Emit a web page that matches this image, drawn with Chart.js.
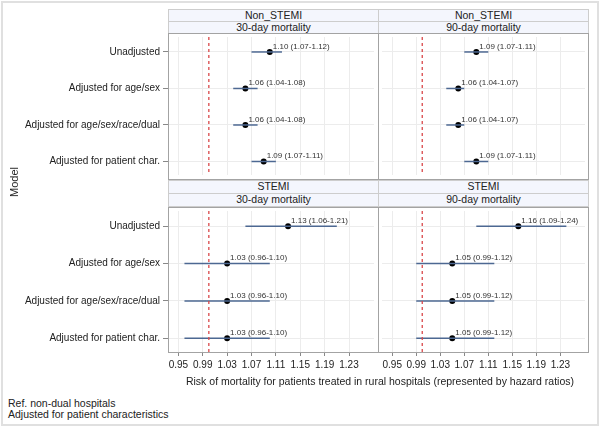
<!DOCTYPE html>
<html>
<head>
<meta charset="utf-8">
<script src="https://cdn.jsdelivr.net/npm/chart.js@4.4.0/dist/chart.umd.min.js"></script>
<style>
html, body { margin: 0; padding: 0; background: #fff; }
#wrap { position: relative; width: 600px; height: 427px; overflow: hidden;
  font-family: "Liberation Sans", Arial, sans-serif; color: #222; }
#frame { position: absolute; left: 1px; top: 1px; width: 594px; height: 421px; border: 2px solid #e0e0e0; }
canvas { position: absolute; }
.strip { position: absolute; background: #f4f6fd; border: 1px solid #cdcdcd; box-sizing: border-box;
  text-align: center; font-size: 10.5px; line-height: 11px; white-space: nowrap; }
.panel { position: absolute; border: 1px solid #a3a3a3; box-sizing: border-box; pointer-events: none; }
.txt { position: absolute; white-space: nowrap; font-size: 10.5px; }
</style>
</head>
<body>
<div id="wrap">
  <div id="frame"></div>

  <div class="strip" style="left:168px;top:21px;width:211px;height:13px;">30-day mortality</div>
  <div class="strip" style="left:168px;top:9px;width:211px;height:13px;">Non_STEMI</div>
  <div class="strip" style="left:378px;top:21px;width:211px;height:13px;">90-day mortality</div>
  <div class="strip" style="left:378px;top:9px;width:211px;height:13px;">Non_STEMI</div>
  <div class="strip" style="left:168px;top:193px;width:211px;height:14px;">30-day mortality</div>
  <div class="strip" style="left:168px;top:180px;width:211px;height:14px;">STEMI</div>
  <div class="strip" style="left:378px;top:193px;width:211px;height:14px;">90-day mortality</div>
  <div class="strip" style="left:378px;top:180px;width:211px;height:14px;">STEMI</div>

  <canvas id="c1" width="378" height="146" style="left:0;top:33px;"></canvas>
  <canvas id="c2" width="211" height="146" style="left:378px;top:33px;"></canvas>
  <canvas id="c3" width="378" height="169" style="left:0;top:207px;"></canvas>
  <canvas id="c4" width="211" height="169" style="left:378px;top:207px;"></canvas>

  <div class="panel" style="left:168px;top:33px;width:211px;height:147px;"></div>
  <div class="panel" style="left:378px;top:33px;width:211px;height:147px;"></div>
  <div class="panel" style="left:168px;top:207px;width:211px;height:146px;"></div>
  <div class="panel" style="left:378px;top:207px;width:211px;height:146px;"></div>

  <div class="txt" style="left:14px;top:182px;font-size:11px;transform:translate(-50%,-50%) rotate(-90deg);">Model</div>
  <div class="txt" style="left:380px;top:375px;transform:translateX(-50%);">Risk of mortality for patients treated in rural hospitals (represented by hazard ratios)</div>
  <div class="txt" style="left:8px;top:397px;">Ref. non-dual hospitals</div>
  <div class="txt" style="left:8px;top:408px;">Adjusted for patient characteristics</div>
</div>

<script>
// rows (top to bottom)
const models = ['Unadjusted', 'Adjusted for age/sex', 'Adjusted for age/sex/race/dual', 'Adjusted for patient char.'];

// hazard ratios with 95% CI
const nonStemi30Hr = [1.10, 1.06, 1.06, 1.09];
const nonStemi30Lo = [1.07, 1.04, 1.04, 1.07];
const nonStemi30Hi = [1.12, 1.08, 1.08, 1.11];

const nonStemi90Hr = [1.09, 1.06, 1.06, 1.09];
const nonStemi90Lo = [1.07, 1.04, 1.04, 1.07];
const nonStemi90Hi = [1.11, 1.07, 1.07, 1.11];

const stemi30Hr = [1.13, 1.03, 1.03, 1.03];
const stemi30Lo = [1.06, 0.96, 0.96, 0.96];
const stemi30Hi = [1.21, 1.10, 1.10, 1.10];

const stemi90Hr = [1.16, 1.05, 1.05, 1.05];
const stemi90Lo = [1.09, 0.99, 0.99, 0.99];
const stemi90Hi = [1.24, 1.12, 1.12, 1.12];

const xTicks = [0.95, 0.99, 1.03, 1.07, 1.11, 1.15, 1.19, 1.23];
const refValue = 1.00;
const xMin = 0.933, xMax = 1.271;
const yMin = -0.41, yMax = 3.37;

Chart.defaults.font.family = '"Liberation Sans", Arial, sans-serif';
Chart.defaults.color = '#222';

// text label "hr (lo-hi)" next to every point
const ciLabelPlugin = {
  id: 'ciLabels',
  afterDatasetsDraw(chart) {
    const idx = chart.data.datasets.findIndex(d => d.ciLabels);
    if (idx < 0) return;
    const meta = chart.getDatasetMeta(idx);
    const labels = chart.data.datasets[idx].ciLabels;
    const ctx = chart.ctx;
    ctx.save();
    ctx.font = '8px "Liberation Sans", Arial, sans-serif';
    ctx.fillStyle = '#333';
    ctx.textBaseline = 'bottom';
    meta.data.forEach((pt, i) => ctx.fillText(labels[i], pt.x + 3, pt.y - 1.5));
    ctx.restore();
  }
};

function makePanel(id, hr, lo, hi, showY, showX) {
  const fmt = v => v.toFixed(2);
  const ciSets = hr.map((v, i) => ({
    data: [{x: lo[i], y: i}, {x: hi[i], y: i}],
    showLine: true,
    borderColor: '#4d6892',
    borderWidth: 1.5,
    pointRadius: 0
  }));
  const refSet = {
    data: [{x: refValue, y: yMin}, {x: refValue, y: yMax}],
    showLine: true,
    borderColor: '#d9484a',
    borderWidth: 1.3,
    borderDash: [3, 3],
    pointRadius: 0
  };
  const pointSet = {
    data: hr.map((v, i) => ({x: v, y: i})),
    pointRadius: 3,
    borderWidth: 0,
    backgroundColor: '#000',
    ciLabels: hr.map((v, i) => fmt(v) + ' (' + fmt(lo[i]) + '-' + fmt(hi[i]) + ')')
  };

  new Chart(document.getElementById(id), {
    type: 'scatter',
    data: { datasets: [refSet, ...ciSets, pointSet] },
    options: {
      responsive: false,
      animation: false,
      layout: { padding: 0 },
      plugins: { legend: { display: false }, tooltip: { enabled: false } },
      scales: {
        x: {
          type: 'linear', min: xMin, max: xMax,
          afterBuildTicks: s => { s.ticks = xTicks.map(v => ({value: v})); },
          grid: { color: '#ececec', drawTicks: showX, tickLength: 4, tickColor: '#888' },
          border: { display: false },
          ticks: { display: showX, padding: 3, maxRotation: 0, autoSkip: false,
                   font: { size: 10 }, callback: v => v.toFixed(2) },
          afterFit: s => { s.height = showX ? 24 : 0; s.paddingLeft = 0; s.paddingRight = 0; }
        },
        y: {
          type: 'linear', reverse: true, min: yMin, max: yMax,
          afterBuildTicks: s => { s.ticks = models.map((m, i) => ({value: i})); },
          grid: { color: '#ececec', drawTicks: showY, tickLength: 5, tickColor: '#888' },
          border: { display: false },
          ticks: { display: showY, padding: 3, font: { size: 10 }, callback: v => models[v] },
          afterFit: s => { s.width = showY ? 168 : 0; s.paddingTop = 0; s.paddingBottom = 0; }
        }
      }
    },
    plugins: [ciLabelPlugin]
  });
}

makePanel('c1', nonStemi30Hr, nonStemi30Lo, nonStemi30Hi, true, false);
makePanel('c2', nonStemi90Hr, nonStemi90Lo, nonStemi90Hi, false, false);
makePanel('c3', stemi30Hr, stemi30Lo, stemi30Hi, true, true);
makePanel('c4', stemi90Hr, stemi90Lo, stemi90Hi, false, true);
</script>
</body>
</html>
